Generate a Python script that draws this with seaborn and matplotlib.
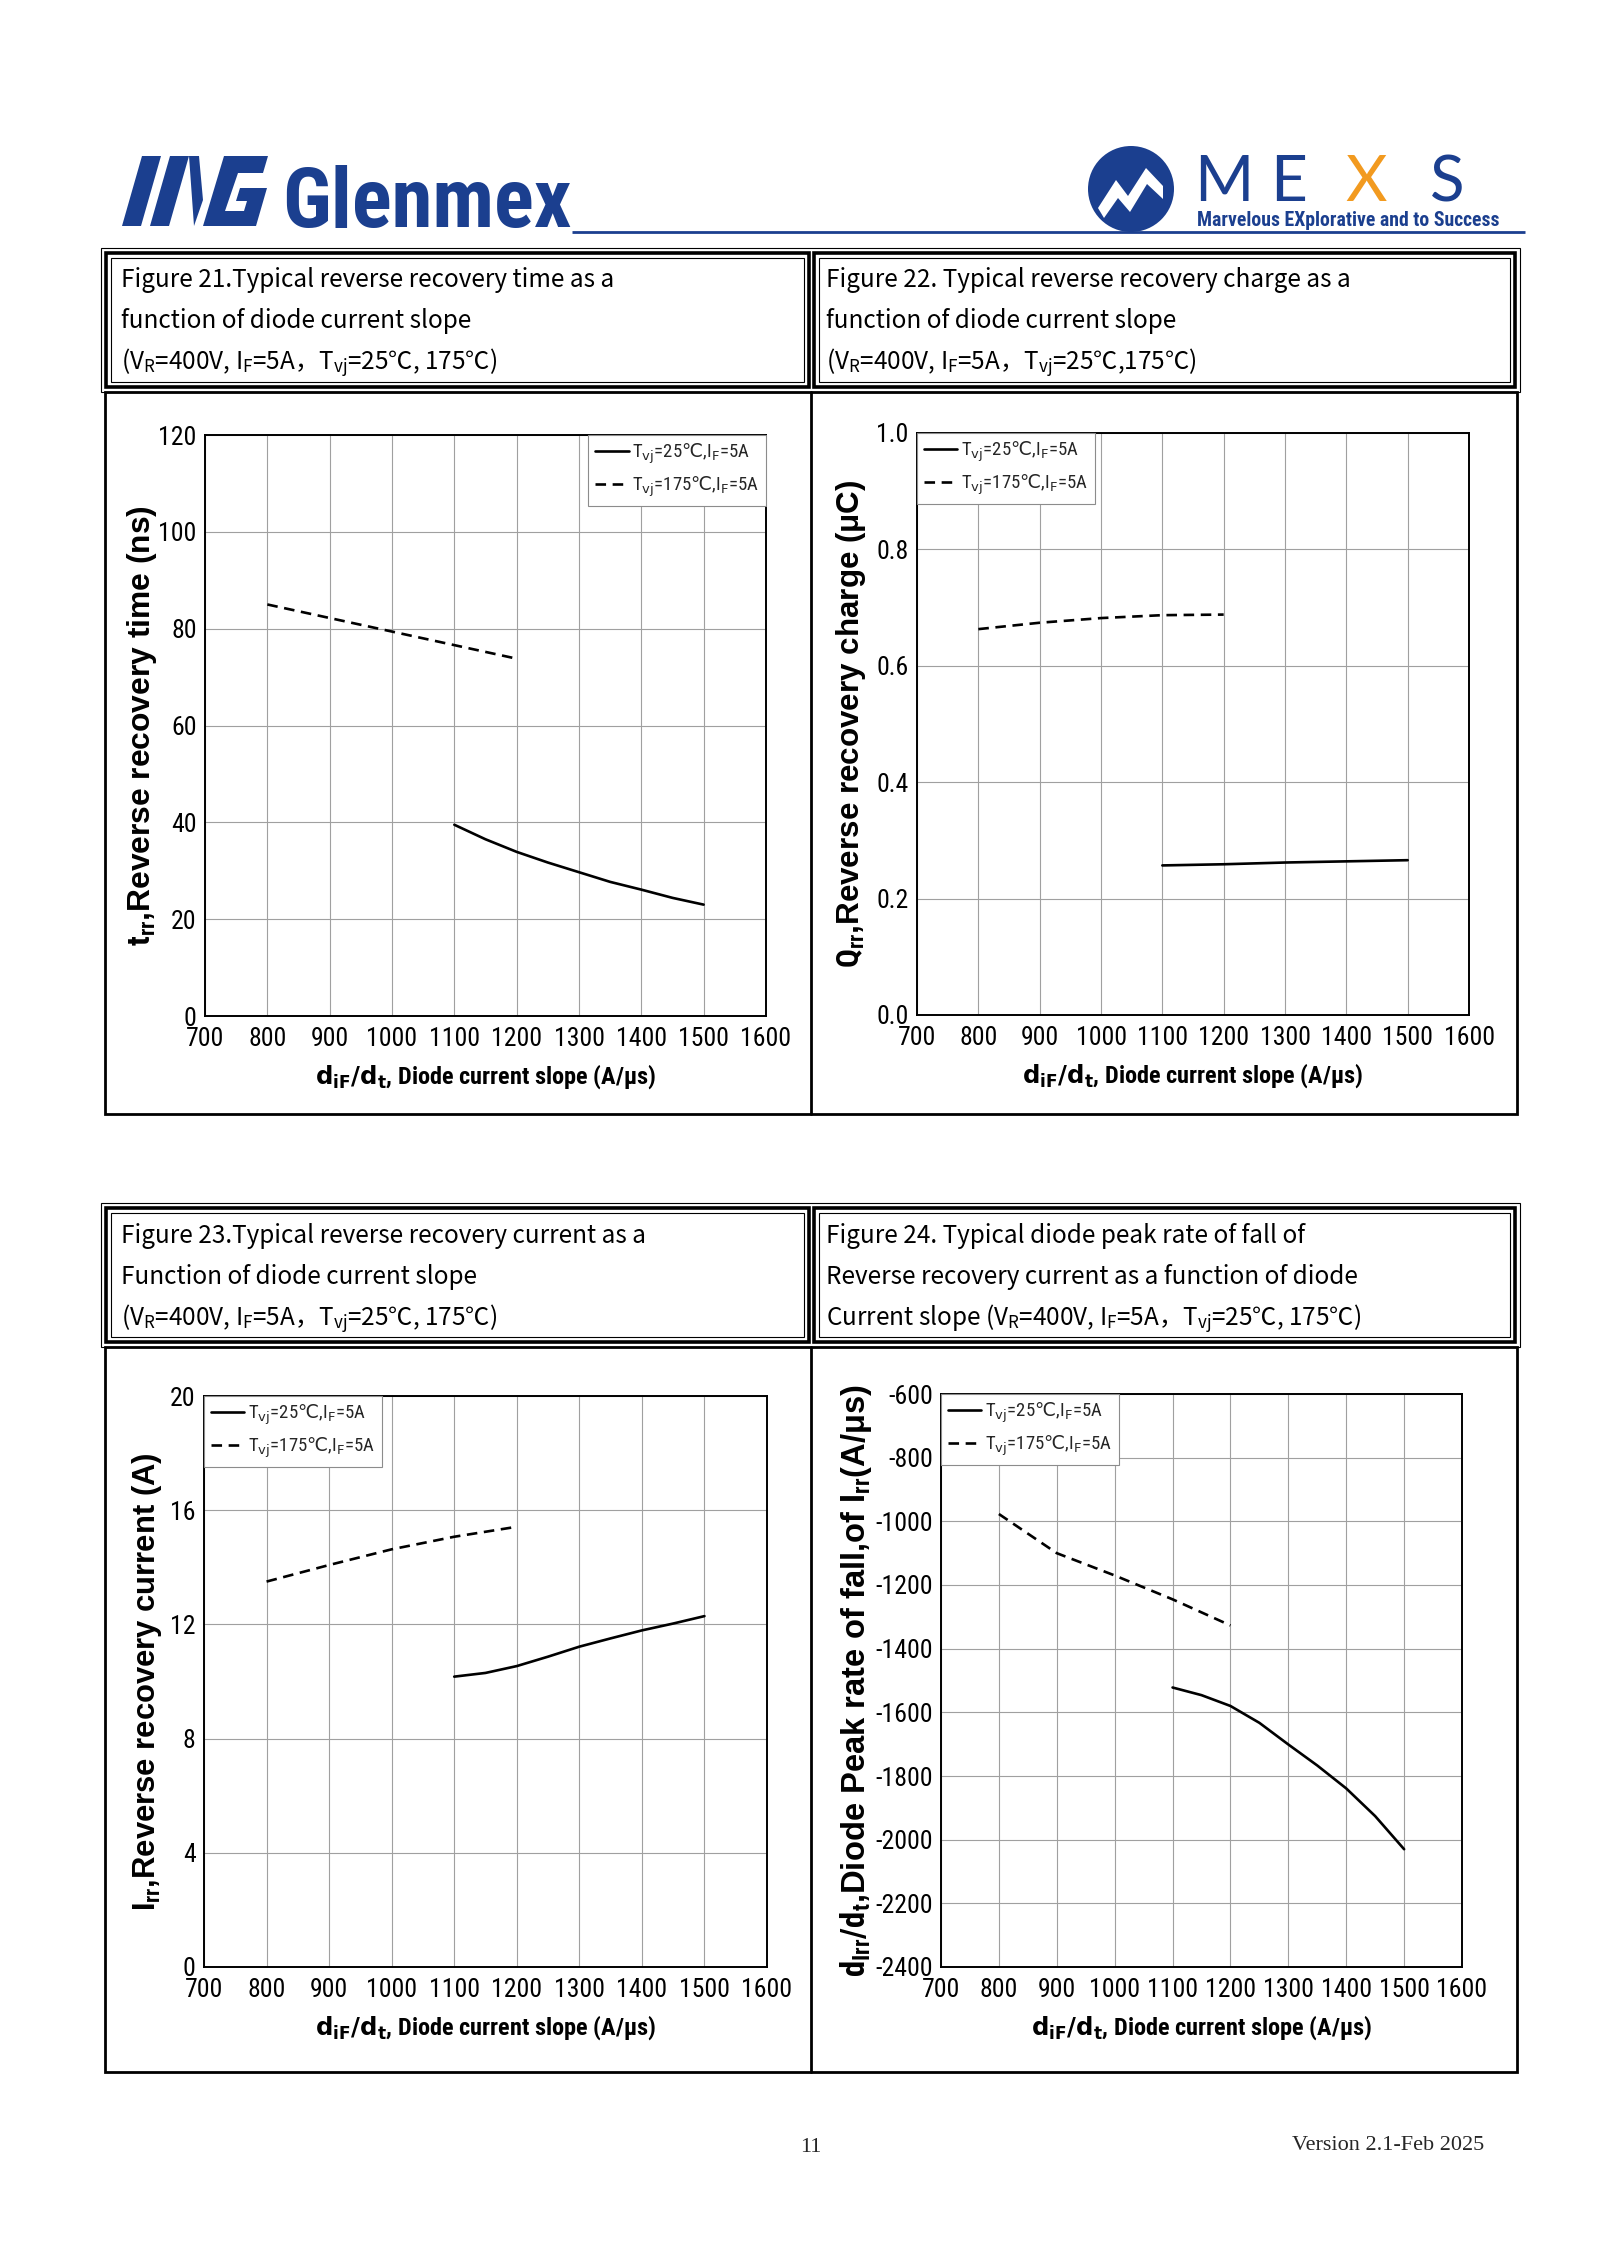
import matplotlib
matplotlib.use("Agg")
import pandas as pd
import matplotlib.pyplot as plt
import matplotlib.font_manager as fm
import seaborn as sns
from matplotlib.patches import Rectangle, Circle, Polygon

# =========================
# Data
# =========================
slope_hot = [800, 900, 1000, 1100, 1200]                              # Tvj = 175 C
slope_cold = [1100, 1150, 1200, 1250, 1300, 1350, 1400, 1450, 1500]   # Tvj = 25 C

trr_hot = [85.0, 82.2, 79.4, 76.6, 73.8]
trr_cold = [39.5, 36.5, 33.9, 31.7, 29.7, 27.7, 26.1, 24.4, 23.0]

qrr_hot = [0.663, 0.674, 0.682, 0.687, 0.688]
qrr_cold = [0.257, 0.258, 0.259, 0.2605, 0.262, 0.263, 0.264, 0.265, 0.266]

irr_hot = [13.5, 14.08, 14.63, 15.07, 15.42]
irr_cold = [10.17, 10.30, 10.54, 10.87, 11.22, 11.51, 11.79, 12.03, 12.29]

didt_hot = [-977, -1100, -1170, -1245, -1327]
didt_cold = [-1522, -1546, -1580, -1633, -1701, -1767, -1839, -1926, -2030]

x_ticks = [700, 800, 900, 1000, 1100, 1200, 1300, 1400, 1500, 1600]

# =========================
# Fonts: look for a condensed sans (datasheet uses Arial Narrow)
# =========================
sns.set_theme(style="white")
plt.rcParams['font.family'] = ['Liberation Sans', 'DejaVu Sans']


def weight_of(f):
    return f.weight if isinstance(f.weight, int) else fm.weight_dict.get(f.weight, 400)


def find_condensed(bold):
    want = 700 if bold else 400
    for name in ['Liberation Sans Narrow', 'Roboto Condensed', 'DejaVu Sans', 'Open Sans']:
        cands = [f for f in fm.fontManager.ttflist
                 if f.name == name and f.style == 'normal'
                 and ('Narrow' in name or 'Condensed' in name
                      or f.stretch in ('condensed', 'semi-condensed'))]
        if cands:
            return min(cands, key=lambda f: abs(weight_of(f) - want))
    return None


cond_reg = find_condensed(False)
cond_bold = find_condensed(True)


def fp(entry, size, fallback_family, bold=False):
    if entry is not None:
        return fm.FontProperties(fname=entry.fname, size=size)
    return fm.FontProperties(family=fallback_family, size=size,
                             weight='bold' if bold else 'normal')


def spec(entry, fallback):
    # fontconfig-style pattern for mathtext
    if entry is None:
        return fallback
    s = entry.name + ':weight=' + str(weight_of(entry))
    if entry.stretch in ('condensed', 'semi-condensed'):
        s += ':stretch=' + entry.stretch
    return s


have_cond = cond_reg is not None
tick_fp = fp(cond_reg, 18.5 if have_cond else 15, 'Liberation Sans')
xlab_fp = fp(cond_bold, 17.5 if have_cond else 15, 'Liberation Sans', bold=True)
leg_fp = fp(cond_reg, 13.5 if have_cond else 11.5, 'Liberation Sans')
logo_fp = fp(cond_bold, 60, 'Liberation Sans', bold=True)
tag_fp = fp(cond_bold, 12, 'Liberation Sans', bold=True)

plt.rcParams['mathtext.fontset'] = 'custom'
plt.rcParams['mathtext.rm'] = 'Noto Sans CJK SC'
plt.rcParams['mathtext.sf'] = spec(cond_reg, 'Liberation Sans')
plt.rcParams['mathtext.bf'] = spec(cond_bold, 'Liberation Sans:bold')
plt.rcParams['mathtext.it'] = 'Liberation Sans'

BLUE = '#1b3f8f'
W, H = 1600, 2263


def box(x0, y0, x1, y1):
    return [x0 / W, 1 - y1 / H, (x1 - x0) / W, (y1 - y0) / H]


fig = plt.figure(figsize=(16, 22.63), dpi=100)
fig.patch.set_facecolor('white')

# page layer in pixel coordinates
page = fig.add_axes([0, 0, 1, 1])
page.set_xlim(0, W)
page.set_ylim(H, 0)
page.axis('off')

# =========================
# Header logos
# =========================
icon = [
    [(122, 226), (142, 156), (161, 156), (141, 226)],
    [(150, 226), (170, 156), (189, 156), (169, 226)],
    [(189, 156), (199, 156), (203, 200), (194, 226)],
    [(203, 226), (224, 156), (268, 156), (263, 173), (238, 173), (225, 211),
     (244, 211), (247, 201), (236, 201), (240, 188), (267, 188), (256, 226)],
]
for pts in icon:
    page.add_patch(Polygon(pts, closed=True, color=BLUE, lw=0))
logo = page.text(282, 227, 'Glenmex', color=BLUE, fontproperties=logo_fp,
                 va='baseline', ha='left')
page.plot([572, 1525], [232, 232], color=BLUE, lw=2.0, solid_capstyle='butt')

page.add_patch(Circle((1131, 189), 43, color=BLUE, lw=0))
page.add_patch(Polygon([(1098, 208), (1116, 180), (1128, 196), (1146, 168),
                        (1163, 186), (1163, 199), (1147, 184), (1130, 212),
                        (1118, 198), (1104, 218)], closed=True, color='white', lw=0))
for ch, xx, col in [('M', 1194, BLUE), ('E', 1270, BLUE), ('X', 1345, '#f29a1f'), ('S', 1430, BLUE)]:
    page.text(xx, 201, ch, color=col, fontsize=46, family=['Lato', 'DejaVu Sans'],
              fontweight='normal', va='baseline', ha='left')
tag = page.text(1197, 221, 'Marvelous EXplorative and to Success', color=BLUE,
                fontproperties=tag_fp, va='center', ha='left')

# =========================
# Frames and titles
# =========================
title_font = ['Noto Sans CJK SC', 'DejaVu Sans']


def title_frame(y0, y1):
    page.add_patch(Rectangle((101, y0), 1419, y1 - y0, fill=False, lw=0.8, ec='black'))
    for a, b in [(106, 809), (814, 1515)]:
        page.add_patch(Rectangle((a, y0 + 5), b - a, y1 - y0 - 10, fill=False, lw=2.6, ec='black'))
        page.add_patch(Rectangle((a + 5, y0 + 10), b - a - 10, y1 - y0 - 20, fill=False, lw=0.8, ec='black'))


def plot_frame(y0, y1):
    page.add_patch(Rectangle((105, y0), 1412, y1 - y0, fill=False, lw=2.0, ec='black'))
    page.plot([811, 811], [y0, y1], color='black', lw=2.0)


title_frame(248, 392)
plot_frame(392, 1114)
title_frame(1203, 1347)
plot_frame(1347, 2072)

sub = r'(V$_{\mathrm{R}}$=400V, I$_{\mathrm{F}}$=5A，T$_{\mathrm{vj}}$=25℃,'
titles = [
    (121, 280, ["Figure 21.Typical reverse recovery time as a",
                "function of diode current slope",
                sub + " 175℃)"]),
    (826, 280, ["Figure 22. Typical reverse recovery charge as a",
                "function of diode current slope",
                sub + "175℃)"]),
    (121, 1236, ["Figure 23.Typical reverse recovery current as a",
                 "Function of diode current slope",
                 sub + " 175℃)"]),
    (826, 1236, ["Figure 24. Typical diode peak rate of fall of",
                 "Reverse recovery current as a function of diode",
                 "Current slope " + sub + " 175℃)"]),
]
for tx, ty, lines in titles:
    for i, line in enumerate(lines):
        page.text(tx, ty + i * 41.5, line, fontsize=17.5, family=title_font,
                  va='center', ha='left', color='black')

# =========================
# Charts
# =========================
leg_labels = [r'T$_{\mathsf{vj}}$=25$\mathrm{℃}$,I$_{\mathsf{F}}$=5A',
              r'T$_{\mathsf{vj}}$=175$\mathrm{℃}$,I$_{\mathsf{F}}$=5A']
xlab = r'$\mathbf{d_{iF}/d_{t}}$, Diode current slope (A/μs)'

panels = [
    dict(pos=(205, 435, 766, 1016), hot=trr_hot, cold=trr_cold, ylim=(0, 120), step=20,
         ylabel=r'$\mathbf{t_{rr}}$,Reverse recovery time (ns)', fmt='{:.0f}',
         loc='upper right', ylen=441, ylx=142),
    dict(pos=(917, 433, 1469, 1015), hot=qrr_hot, cold=qrr_cold, ylim=(0, 1.0), step=0.2,
         ylabel=r'$\mathbf{Q_{rr}}$,Reverse recovery charge (μC)', fmt='{:.1f}',
         loc='upper left', ylen=489, ylx=851),
    dict(pos=(204, 1396, 767, 1967), hot=irr_hot, cold=irr_cold, ylim=(0, 20), step=4,
         ylabel=r'$\mathbf{I_{rr}}$,Reverse recovery current (A)', fmt='{:.0f}',
         loc='upper left', ylen=459, ylx=147),
    dict(pos=(941, 1394, 1462, 1967), hot=didt_hot, cold=didt_cold, ylim=(-2400, -600), step=200,
         ylabel=r'$\mathbf{d_{Irr}/d_{t}}$,Diode Peak rate of fall,of $\mathbf{I_{rr}}$(A/μs)',
         fmt='{:.0f}', loc='upper left', ylen=593, ylx=856),
]

axes = []
for p in panels:
    ax = fig.add_axes(box(*p['pos']))
    df = pd.DataFrame({
        'slope': slope_cold + slope_hot,
        'value': p['cold'] + p['hot'],
        'cond': [leg_labels[0]] * len(slope_cold) + [leg_labels[1]] * len(slope_hot),
    })
    sns.lineplot(data=df[df['cond'] == leg_labels[0]], x='slope', y='value', ax=ax,
                 color='black', lw=1.9, label=leg_labels[0])
    sns.lineplot(data=df[df['cond'] == leg_labels[1]], x='slope', y='value', ax=ax,
                 color='black', lw=1.9, linestyle=(0, (4, 2.5)), label=leg_labels[1])

    ax.set_xlim(700, 1600)
    ax.set_ylim(*p['ylim'])
    ax.set_xticks(x_ticks)
    lo, hi = p['ylim']
    n = int(round((hi - lo) / p['step']))
    yt = [lo + i * p['step'] for i in range(n + 1)]
    ax.set_yticks(yt)
    ax.set_yticklabels([p['fmt'].format(v) for v in yt])
    ax.tick_params(length=0, pad=6, colors='black')
    ax.tick_params(axis='x', pad=8)
    for t in ax.get_xticklabels() + ax.get_yticklabels():
        t.set_fontproperties(tick_fp)
    ax.grid(True, color='#a0a0a0', lw=0.8)
    for s in ax.spines.values():
        s.set_color('black')
        s.set_linewidth(1.4)

    ax.set_xlabel(xlab, fontproperties=xlab_fp, labelpad=8, color='black')
    ax.set_ylabel(p['ylabel'], fontsize=20, fontweight='bold', color='black',
                  family=['Liberation Sans', 'DejaVu Sans'], va='center')
    x0, y0, x1, y1 = p['pos']
    ax.yaxis.set_label_coords((p['ylx'] - x0) / (x1 - x0), 0.5)

    leg = ax.legend(loc=p['loc'], borderaxespad=0, fancybox=False, framealpha=1,
                    edgecolor='#8c8c8c', prop=leg_fp,
                    handlelength=1.8, handletextpad=0.2, borderpad=0.35,
                    labelspacing=0.45)
    leg.get_frame().set_linewidth(0.8)
    axes.append(ax)

# fit some texts to the size they have in the datasheet
fig.canvas.draw()
r = fig.canvas.get_renderer()
for ax, p in zip(axes, panels):
    lab = ax.yaxis.label
    h = lab.get_window_extent(r).height
    lab.set_fontsize(lab.get_fontsize() * p['ylen'] / h)
for t, target in [(logo, 290), (tag, 303)]:
    w = t.get_window_extent(r).width
    t.set_fontsize(t.get_fontsize() * target / w)

# =========================
# Footer
# =========================
page.text(811, 2147, '11', fontsize=16, family=['Liberation Serif', 'DejaVu Serif'],
          ha='center', va='center')
page.text(1484, 2145, 'Version 2.1-Feb 2025', fontsize=16,
          family=['Liberation Serif', 'DejaVu Serif'], ha='right', va='center')

fig.savefig("out.png", dpi=100)
